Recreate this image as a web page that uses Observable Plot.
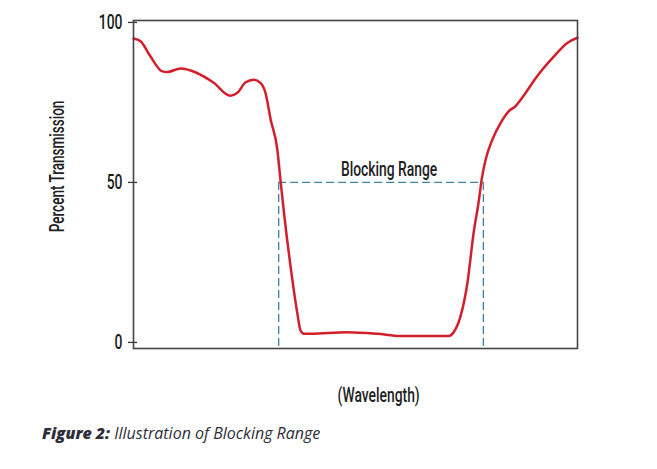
<!DOCTYPE html>
<html>
<head>
<meta charset="utf-8">
<script src="https://cdn.jsdelivr.net/npm/d3@7"></script>
<script src="https://cdn.jsdelivr.net/npm/@observablehq/plot@0.6"></script>
<style>
  html, body { margin: 0; padding: 0; background: #fff; }
  #chart { width: 657px; }
  .cap { font-family: "Open Sans", sans-serif; font-size: 16px; color: #2e2e38; margin: 12px 0 0 42px; font-style: italic; }
  .cap b { font-weight: 800; }
</style>
</head>
<body>
<div id="chart"></div>
<div class="cap"><b>Figure 2:</b> Illustration of Blocking Range</div>
<script>
// Wavelength positions (arbitrary units 0–100) and percent transmission
const wavelength = [0, 1.6, 3.8, 6.5, 7.6, 10.6, 14.3, 18.0, 21.8, 23.4, 25.2, 27.1, 28.6, 29.7, 30.9, 32.4, 33.1, 33.9, 35.4, 36.9, 37.6, 38.4, 39.9, 48.1, 54.9, 60.1, 71.0, 72.1, 73.6, 75.2, 76.6, 77.8, 78.4, 79.3, 80.8, 82.7, 84.5, 86.0, 87.5, 90.9, 94.7, 97.7, 100];
const transmission = [95.0, 94.1, 89.4, 84.7, 84.5, 85.6, 84.2, 81.2, 77.1, 78.0, 81.2, 82.1, 81.1, 78.1, 69.6, 60.2, 50.8, 40.4, 23.5, 9.1, 3.8, 2.7, 2.7, 3.2, 2.7, 2.0, 2.0, 3.2, 7.9, 18.5, 34.2, 44.5, 50.8, 57.1, 63.3, 68.6, 72.2, 73.8, 76.4, 83.2, 89.4, 93.6, 95.2];
const blockStart = 32.7;
const blockEnd = 78.8;
const blockLevel = 50;
const yTicks = [0, 50, 100];
const yLabel = "Percent Transmission";
const xLabel = "(Wavelength)";
const rangeLabel = "Blocking Range";

const curve = wavelength.map((w, i) => ({w, t: transmission[i]}));
const font = 'Roboto, "DejaVu Sans", sans-serif';
const dash = "#3f82a3";

const plot = Plot.plot({
  width: 657,
  height: 410,
  marginLeft: 133,
  marginRight: 80,
  marginTop: 20,
  marginBottom: 62,
  style: {fontFamily: font, color: "#1a1a1a", background: "#fff"},
  x: {domain: [0, 100], axis: null},
  y: {domain: [-1.9, 100.6], axis: null},
  marks: [
    Plot.axisY({ticks: yTicks, tickSize: 5, tickPadding: 6, fontSize: 21, fontWeight: 500, tickFormat: d3.format("d"), stroke: "#333", strokeWidth: 1.3, label: null}),
    Plot.axisY({ticks: yTicks, tickSize: -4, text: null, stroke: "#333", strokeWidth: 1.3, label: null}),
    Plot.ruleY([blockLevel], {x1: blockStart, x2: blockEnd, stroke: dash, strokeWidth: 1.3, strokeDasharray: "8,4"}),
    Plot.ruleX([blockStart, blockEnd], {y1: blockLevel, y2: -1.9, stroke: dash, strokeWidth: 1.3, strokeDasharray: "8,4"}),
    Plot.line(curve, {x: "w", y: "t", stroke: "#d11f2c", strokeWidth: 2.5, curve: "monotone-x"}),
    Plot.frame({stroke: "#444", strokeWidth: 1.6}),
    Plot.text([rangeLabel], {x: (blockStart + blockEnd) / 2, y: blockLevel, dx: 8, dy: -13, fontSize: 21, fontWeight: 500, fill: "#1e1e1e"}),
    Plot.text([xLabel], {x: 55.2, frameAnchor: "bottom", dy: 53, fontSize: 21, fontWeight: 500, fill: "#1e1e1e"}),
    Plot.text([yLabel], {frameAnchor: "left", textAnchor: "middle", dx: -76, dy: -18, rotate: -90, fontSize: 20.5, fontWeight: 500, fill: "#1e1e1e"})
  ]
});
// condense glyphs along the text direction (the original uses a condensed typeface)
d3.select(plot).selectAll("text").each(function() {
  const t = this.getAttribute("transform") || "";
  this.setAttribute("transform", t + " scale(0.66,1)");
});
document.getElementById("chart").appendChild(plot);
</script>
</body>
</html>
